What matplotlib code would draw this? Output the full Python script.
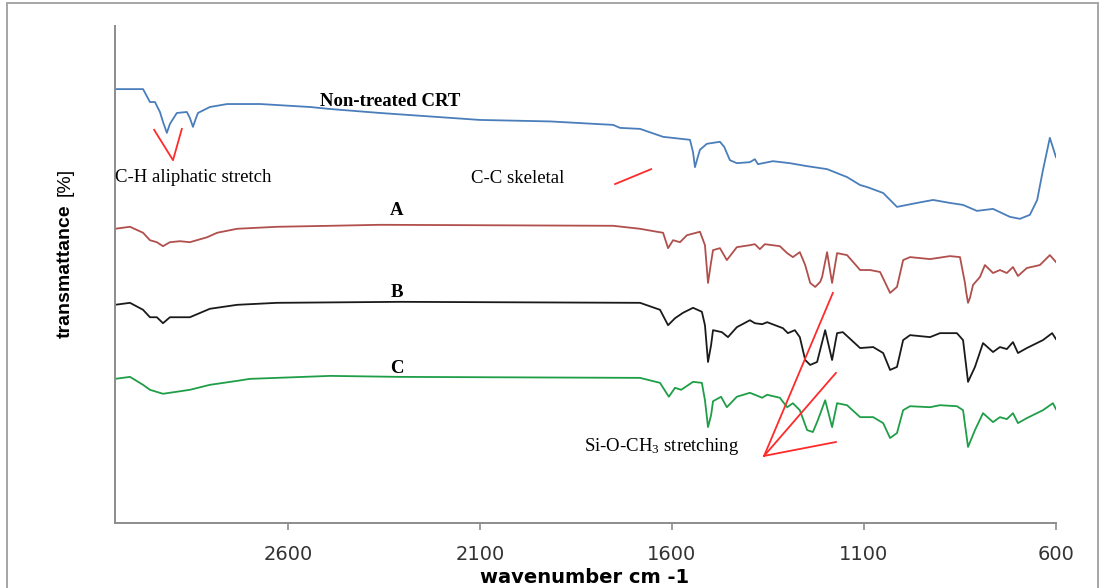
import matplotlib
matplotlib.use("Agg")
import matplotlib.pyplot as plt
from matplotlib.patches import Rectangle

plt.rcParams["mathtext.fontset"] = "custom"
plt.rcParams["mathtext.rm"] = "Liberation Serif"
plt.rcParams["mathtext.it"] = "Liberation Serif:italic"

# ---- FTIR spectra (wavenumber in cm-1, transmittance in arbitrary % units) ----
wn_crt = [3050, 2977, 2959, 2946, 2933, 2925, 2915, 2907, 2889, 2863, 2855, 2847,
          2839, 2834, 2803, 2758, 2672, 2542, 2490, 2360, 2100, 1917, 1753, 1735,
          1683, 1623, 1553, 1545, 1540, 1532, 1527, 1509, 1475, 1464, 1449, 1431,
          1397, 1384, 1376, 1337, 1293, 1248, 1196, 1144, 1110, 1092, 1050, 1014,
          962, 920, 876, 842, 806, 764, 720, 694, 668, 649, 634, 616, 600]
t_crt = [87.3, 87.3, 84.7, 84.7, 82.7, 80.7, 78.5, 80.3, 82.5, 82.7, 81.5, 79.7,
         81.5, 82.5, 83.7, 84.3, 84.3, 83.7, 83.3, 82.5, 81.1, 80.8, 80.1, 79.5,
         79.3, 77.7, 77.1, 74.6, 71.6, 73.8, 75.1, 76.3, 76.7, 75.7, 73.0, 72.4,
         72.6, 73.2, 72.2, 72.8, 72.4, 71.8, 71.2, 69.6, 68.0, 67.6, 66.4, 63.6,
         64.4, 65.0, 64.4, 64.0, 62.8, 63.2, 61.6, 61.2, 62.0, 65.0, 71.0, 77.5,
         73.6]

wn_a = [3050, 3011, 2977, 2959, 2941, 2925, 2907, 2881, 2855, 2810, 2784, 2732,
        2628, 2490, 2360, 1753, 1683, 1639, 1623, 1610, 1597, 1579, 1561, 1527,
        1514, 1506, 1498, 1493, 1475, 1457, 1431, 1397, 1384, 1371, 1358, 1319,
        1300, 1285, 1267, 1253, 1240, 1227, 1214, 1209, 1196, 1183, 1170, 1144,
        1110, 1084, 1058, 1032, 1014, 998, 980, 928, 876, 850, 837, 834, 829,
        824, 816, 798, 785, 764, 746, 728, 712, 699, 676, 642, 616, 600]
t_a = [59.2, 59.6, 58.4, 56.9, 56.5, 55.7, 56.5, 56.7, 56.5, 57.5, 58.4, 59.2,
       59.6, 59.8, 60.0, 59.8, 59.2, 58.6, 58.4, 55.3, 56.9, 56.5, 57.9, 58.6,
       55.9, 48.3, 52.5, 54.9, 55.3, 52.9, 55.5, 55.9, 56.1, 55.1, 56.1, 55.7,
       54.3, 53.5, 54.5, 51.9, 48.3, 47.5, 48.5, 49.5, 54.5, 48.3, 54.3, 53.9,
       50.9, 50.9, 50.5, 46.3, 47.5, 52.9, 53.5, 53.1, 53.7, 53.5, 48.3, 46.5,
       44.3, 45.3, 47.9, 49.5, 51.9, 50.3, 50.9, 50.3, 51.5, 49.7, 51.3, 51.9,
       53.9, 52.5]

wn_b = [3050, 3011, 2977, 2959, 2941, 2925, 2907, 2855, 2803, 2732, 2628, 2308,
        1683, 1631, 1610, 1592, 1571, 1545, 1522, 1514, 1506, 1498, 1493, 1470,
        1454, 1431, 1397, 1384, 1365, 1352, 1311, 1298, 1280, 1267, 1253, 1240,
        1222, 1201, 1183, 1170, 1155, 1110, 1076, 1050, 1032, 1014, 998, 980,
        928, 902, 858, 842, 829, 811, 790, 764, 746, 728, 712, 699, 676, 634,
        610, 600]
t_b = [43.9, 44.3, 42.9, 41.4, 41.4, 40.2, 41.4, 41.4, 43.1, 43.9, 44.3, 44.5,
       44.3, 42.9, 39.8, 41.2, 42.3, 43.3, 42.5, 39.8, 32.4, 35.8, 38.8, 38.4,
       37.4, 39.4, 40.8, 40.2, 40.0, 40.4, 39.2, 38.2, 38.8, 37.4, 32.8, 31.8,
       32.4, 38.8, 32.8, 38.2, 38.4, 35.2, 35.4, 34.2, 30.8, 31.4, 36.8, 37.8,
       37.4, 38.2, 38.2, 36.8, 28.4, 31.4, 36.2, 34.4, 35.4, 35.0, 36.4, 34.2,
       35.2, 36.8, 38.2, 37.0]

wn_c = [3050, 3011, 2977, 2959, 2925, 2855, 2803, 2732, 2699, 2490, 2308, 1683,
        1631, 1608, 1592, 1576, 1545, 1522, 1514, 1506, 1498, 1493, 1472, 1457,
        1431, 1397, 1384, 1365, 1352, 1319, 1300, 1285, 1267, 1248, 1233, 1220,
        1201, 1183, 1170, 1144, 1110, 1076, 1050, 1032, 1014, 998, 980, 928, 902,
        858, 842, 829, 811, 790, 764, 746, 728, 712, 699, 676, 634, 608, 600]
t_c = [29.0, 29.4, 27.8, 26.8, 26.0, 26.8, 27.8, 28.6, 29.0, 29.6, 29.4, 29.2,
       28.2, 25.4, 27.2, 26.8, 28.4, 28.2, 24.7, 19.3, 21.7, 24.5, 25.4, 23.3,
       25.4, 26.2, 25.8, 25.2, 25.8, 25.2, 23.3, 24.1, 22.7, 18.7, 18.3, 20.7,
       24.7, 19.3, 24.1, 23.7, 21.3, 21.3, 20.1, 17.1, 18.1, 22.7, 23.5, 23.3,
       23.7, 23.5, 22.7, 15.3, 18.7, 22.1, 20.3, 21.3, 20.9, 22.1, 20.1, 21.1,
       22.7, 24.1, 22.9]

x_ticks = [2600, 2100, 1600, 1100, 600]

W, H = 1101, 588
fig = plt.figure(figsize=(W / 100, H / 100), dpi=100)
ax = fig.add_axes([115 / W, 65 / H, 941 / W, 497 / H])

line_kw = dict(lw=1.3, solid_joinstyle="round")
ax.plot(wn_crt, t_crt, color="#4A7EBB", **line_kw)
ax.plot(wn_a, t_a, color="#B04F4C", **line_kw)
ax.plot(wn_b, t_b, color="#1A1A1A", **line_kw)
ax.plot(wn_c, t_c, color="#1F9E48", **line_kw)

ax.set_xlim(3050, 600)
ax.set_ylim(0, 100)
ax.set_xticks(x_ticks)
ax.set_xticklabels([str(v) for v in x_ticks])
ax.set_yticks([])
for side in ("top", "right"):
    ax.spines[side].set_visible(False)
for side in ("left", "bottom"):
    ax.spines[side].set_color("#8C8C8C")
    ax.spines[side].set_linewidth(1.4)
ax.tick_params(axis="x", direction="out", length=5, width=1.2, color="#8C8C8C",
               pad=11, labelsize=14, labelcolor="#333333")
for lbl in ax.get_xticklabels():
    lbl.set_fontfamily("DejaVu Sans")

# ---- band annotations ----
red = "#FF2A2A"
serif = ["Liberation Serif", "DejaVu Serif"]
ax.plot([2948, 2899, 2876], [79.1, 73.0, 79.3], color=red, lw=1.3)
ax.plot([1748, 1654], [68.2, 71.2], color=red, lw=1.3)
for tip_x, tip_y in [(1181, 46.3), (1173, 30.2), (1173, 16.3)]:
    ax.plot([1360, tip_x], [13.5, tip_y], color=red, lw=1.3)

ax.text(2334, 84.9, "Non-treated CRT", family=serif, weight="bold", fontsize=13.5,
        ha="center", va="center")
ax.text(3050, 69.6, "C-H aliphatic stretch", family=serif, fontsize=13.5,
        ha="left", va="center")
ax.text(2123, 69.4, "C-C skeletal", family=serif, fontsize=13.5,
        ha="left", va="center")
ax.text(1829, 15.3, r"Si-O-CH$_3$ stretching", family=serif, fontsize=13.5,
        ha="left", va="center")
for name, yv in [("A", 62.8), ("B", 46.3), ("C", 31.0)]:
    ax.text(2316, yv, name, family=serif, weight="bold", fontsize=13.5,
            ha="center", va="center")

# ---- axis titles ----
sans = ["Liberation Sans", "DejaVu Sans"]
fig.text(65 / W, 1 - 271 / H, "transmattance", rotation=90, family=sans,
         weight="bold", fontsize=14, ha="center", va="center")
fig.text(65 / W, 1 - 182 / H, "[%]", rotation=90, family=sans,
         fontsize=14, ha="center", va="center")
fig.text(585 / W, 1 / H, "wavenumber cm -1", family="DejaVu Sans",
         weight="bold", fontsize=14, ha="center", va="bottom")

# ---- outer frame ----
fig.add_artist(Rectangle((7 / W, -0.05), (1098 - 7) / W, 0.05 + 1 - 3 / H,
                         transform=fig.transFigure, fill=False,
                         edgecolor="#A6A6A6", lw=1.4, clip_on=False))

fig.savefig("out.png", dpi=100, facecolor="white")
